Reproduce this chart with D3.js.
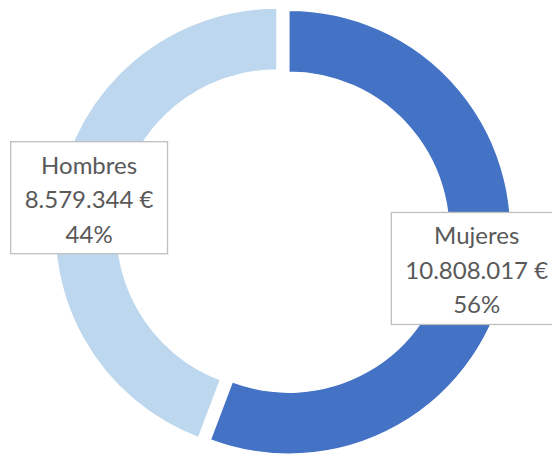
<!DOCTYPE html>
<html>
<head>
<meta charset="utf-8">
<script src="https://cdn.jsdelivr.net/npm/d3@7"></script>
<style>
  body { margin: 0; background: #fff; }
  svg { display: block; }
</style>
</head>
<body>
<svg width="552" height="459"></svg>
<script>
// data
var categories = ["Mujeres", "Hombres"];
var amounts = [10808017, 8579344];
var amountLabels = ["10.808.017 €", "8.579.344 €"];
var colors = ["#4472C4", "#BDD7EE"];
var explode = [12, 0];

var svg = d3.select("svg"),
    width = +svg.attr("width"),
    height = +svg.attr("height");

var cx = 277, cy = 230;
var outerR = 222, innerR = 160;

var total = d3.sum(amounts);
var data = categories.map(function (c, i) {
    return { name: c, value: amounts[i], label: amountLabels[i], color: colors[i], explode: explode[i] };
});

var pie = d3.pie()
    .sort(null)
    .value(function (d) { return d.value; });

var arc = d3.arc()
    .innerRadius(innerR)
    .outerRadius(outerR);

var arcs = pie(data);

// offset of exploded slice along its bisector
function offset(d) {
    var a = (d.startAngle + d.endAngle) / 2;
    return [Math.sin(a) * d.data.explode, -Math.cos(a) * d.data.explode];
}

var g = svg.append("g")
    .attr("transform", "translate(" + cx + "," + cy + ")");

g.selectAll("path")
    .data(arcs)
    .enter()
    .append("path")
    .attr("d", arc)
    .attr("transform", function (d) { var o = offset(d); return "translate(" + o[0] + "," + o[1] + ")"; })
    .attr("fill", function (d) { return d.data.color; })
    .attr("stroke", "#fff")
    .attr("stroke-width", 1.5);

// data labels: boxes centred on arc centroids
var lineH = 34.5;
var labels = g.selectAll("g.lbl")
    .data(arcs)
    .enter()
    .append("g")
    .attr("class", "lbl")
    .attr("transform", function (d) {
        var c = arc.centroid(d), o = offset(d);
        return "translate(" + (c[0] + o[0]) + "," + (c[1] + o[1] + 2) + ")";
    });

var boxes = labels.append("rect")
    .attr("fill", "#fff")
    .attr("stroke", "#BFBFBF")
    .attr("stroke-width", 1.3);

labels.each(function (d) {
    var lbl = d3.select(this);
    var lines = [d.data.name, d.data.label, Math.round(d.data.value / total * 100) + "%"];
    var t = lbl.append("text")
        .attr("text-anchor", "middle")
        .attr("font-family", "Lato, 'Open Sans', sans-serif")
        .attr("font-size", 24)
        .attr("fill", "#595959");
    lines.forEach(function (s, i) {
        t.append("tspan")
            .attr("x", 0)
            .attr("y", -24 + i * lineH)
            .text(s);
    });
    var w = d3.max(t.selectAll("tspan").nodes(), function (n) { return n.getComputedTextLength(); });
    lbl.select("rect")
        .attr("x", -w / 2 - 14)
        .attr("y", -56)
        .attr("width", w + 28)
        .attr("height", 112);
});
</script>
</body>
</html>
